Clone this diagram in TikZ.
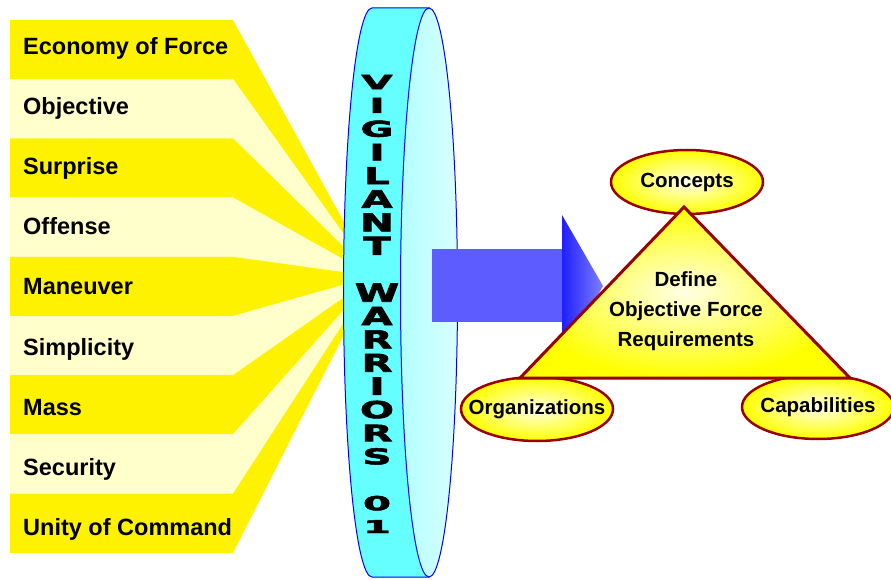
\documentclass[tikz,border=0pt]{standalone}
\usepackage{fontspec}
\setmainfont{Liberation Sans}
\newfontfamily\discfont{DejaVu Sans Bold}[FakeBold=2.5]
\usetikzlibrary{shapes.geometric}
\definecolor{paleyellow}{HTML}{FFFFCC}
\definecolor{rimcyan}{HTML}{66FFFF}
\definecolor{darkred}{HTML}{990000}
\begin{document}
\begin{tikzpicture}[x=1pt,y=1pt,
			principle/.style={anchor=base west,inner sep=0pt,font=\bfseries\fontsize{23.5}{28}\selectfont},
			discletter/.style={font=\discfont\fontsize{25}{25}\selectfont,xscale=1.6,inner sep=0pt},
			rim/.style={draw=blue,line width=1pt,fill=rimcyan},
			face/.style={draw=blue,line width=1pt,left color=cyan!30,middle color=white,right color=cyan!15},
			goal/.style={ellipse,draw=darkred,line width=2.5pt,inner sep=0pt,inner color=yellow!10,outer color=yellow,
				minimum width=152pt,minimum height=64pt,font=\bfseries\fontsize{20.5}{24}\selectfont},
			tri/.style={draw=darkred,line width=3pt,inner color=yellow!10,outer color=yellow},]
\useasboundingbox (0,0) rectangle (891,579);
\foreach \txt [count=\i from 0] in {Economy of Force,Objective,Surprise,Offense,Maneuver,Simplicity,Mass,Security,Unity of Command}{
	\pgfmathsetmacro\yt{559-59.2*\i}
	\pgfmathsetmacro\yb{\yt-59.2}
	\pgfmathsetmacro\ft{346-10*\i}
	\pgfmathsetmacro\fb{\ft-10}
	\ifodd\i \def\bc{paleyellow}\else\def\bc{yellow}\fi
	\fill[\bc] (10,\yt) -- (233,\yt) -- (350,\ft) -- (350,\fb) -- (233,\yb) -- (10,\yb) -- cycle;
	\node[principle] (p\i) at (23,524-60*\i) {\txt};
}
\draw[rim] (429,571) -- (372,571) arc[start angle=90,end angle=270,x radius=28.5,y radius=284.5] -- (429,2) -- cycle;
\draw[face] (429,286.5) ellipse[x radius=28.5,y radius=284.5];
\foreach \ch/\k in {V/0,I/1,G/2,I/3,L/4,A/5,N/6,T/7,W/9,A/10,R/11,R/12,I/13,O/14,R/15,S/16,0/18,1/19}{
	\pgfmathsetmacro\ly{497-23.4*\k}
	\pgfmathsetmacro\ls{sqrt(1-((\ly-286.5)/330)^2)}
	\node[discletter,yscale=\ls] (c\k) at (377,\ly) {\ch};
}
\shade[top color=blue!64,middle color=blue!48,bottom color=blue!64] (432,258) rectangle (566,329);
\shade[left color=blue!88,right color=blue!50] (562,364) -- (603,293) -- (562,222) -- cycle;
\node[goal] (concepts) at (687,397) {\makebox[0pt]{Concepts}};
\node[goal] (orgs) at (537,170) {\makebox[0pt]{Organizations}};
\node[goal] (caps) at (818,172) {\makebox[0pt]{Capabilities}};
\draw[tri] (684,372) -- (850,201) -- (520,201) -- cycle;
\node[align=center,font=\bfseries\fontsize{20.5}{30}\selectfont] (req) at (686,268) {Define\\Objective Force\\Requirements};
\end{tikzpicture}
\end{document}
